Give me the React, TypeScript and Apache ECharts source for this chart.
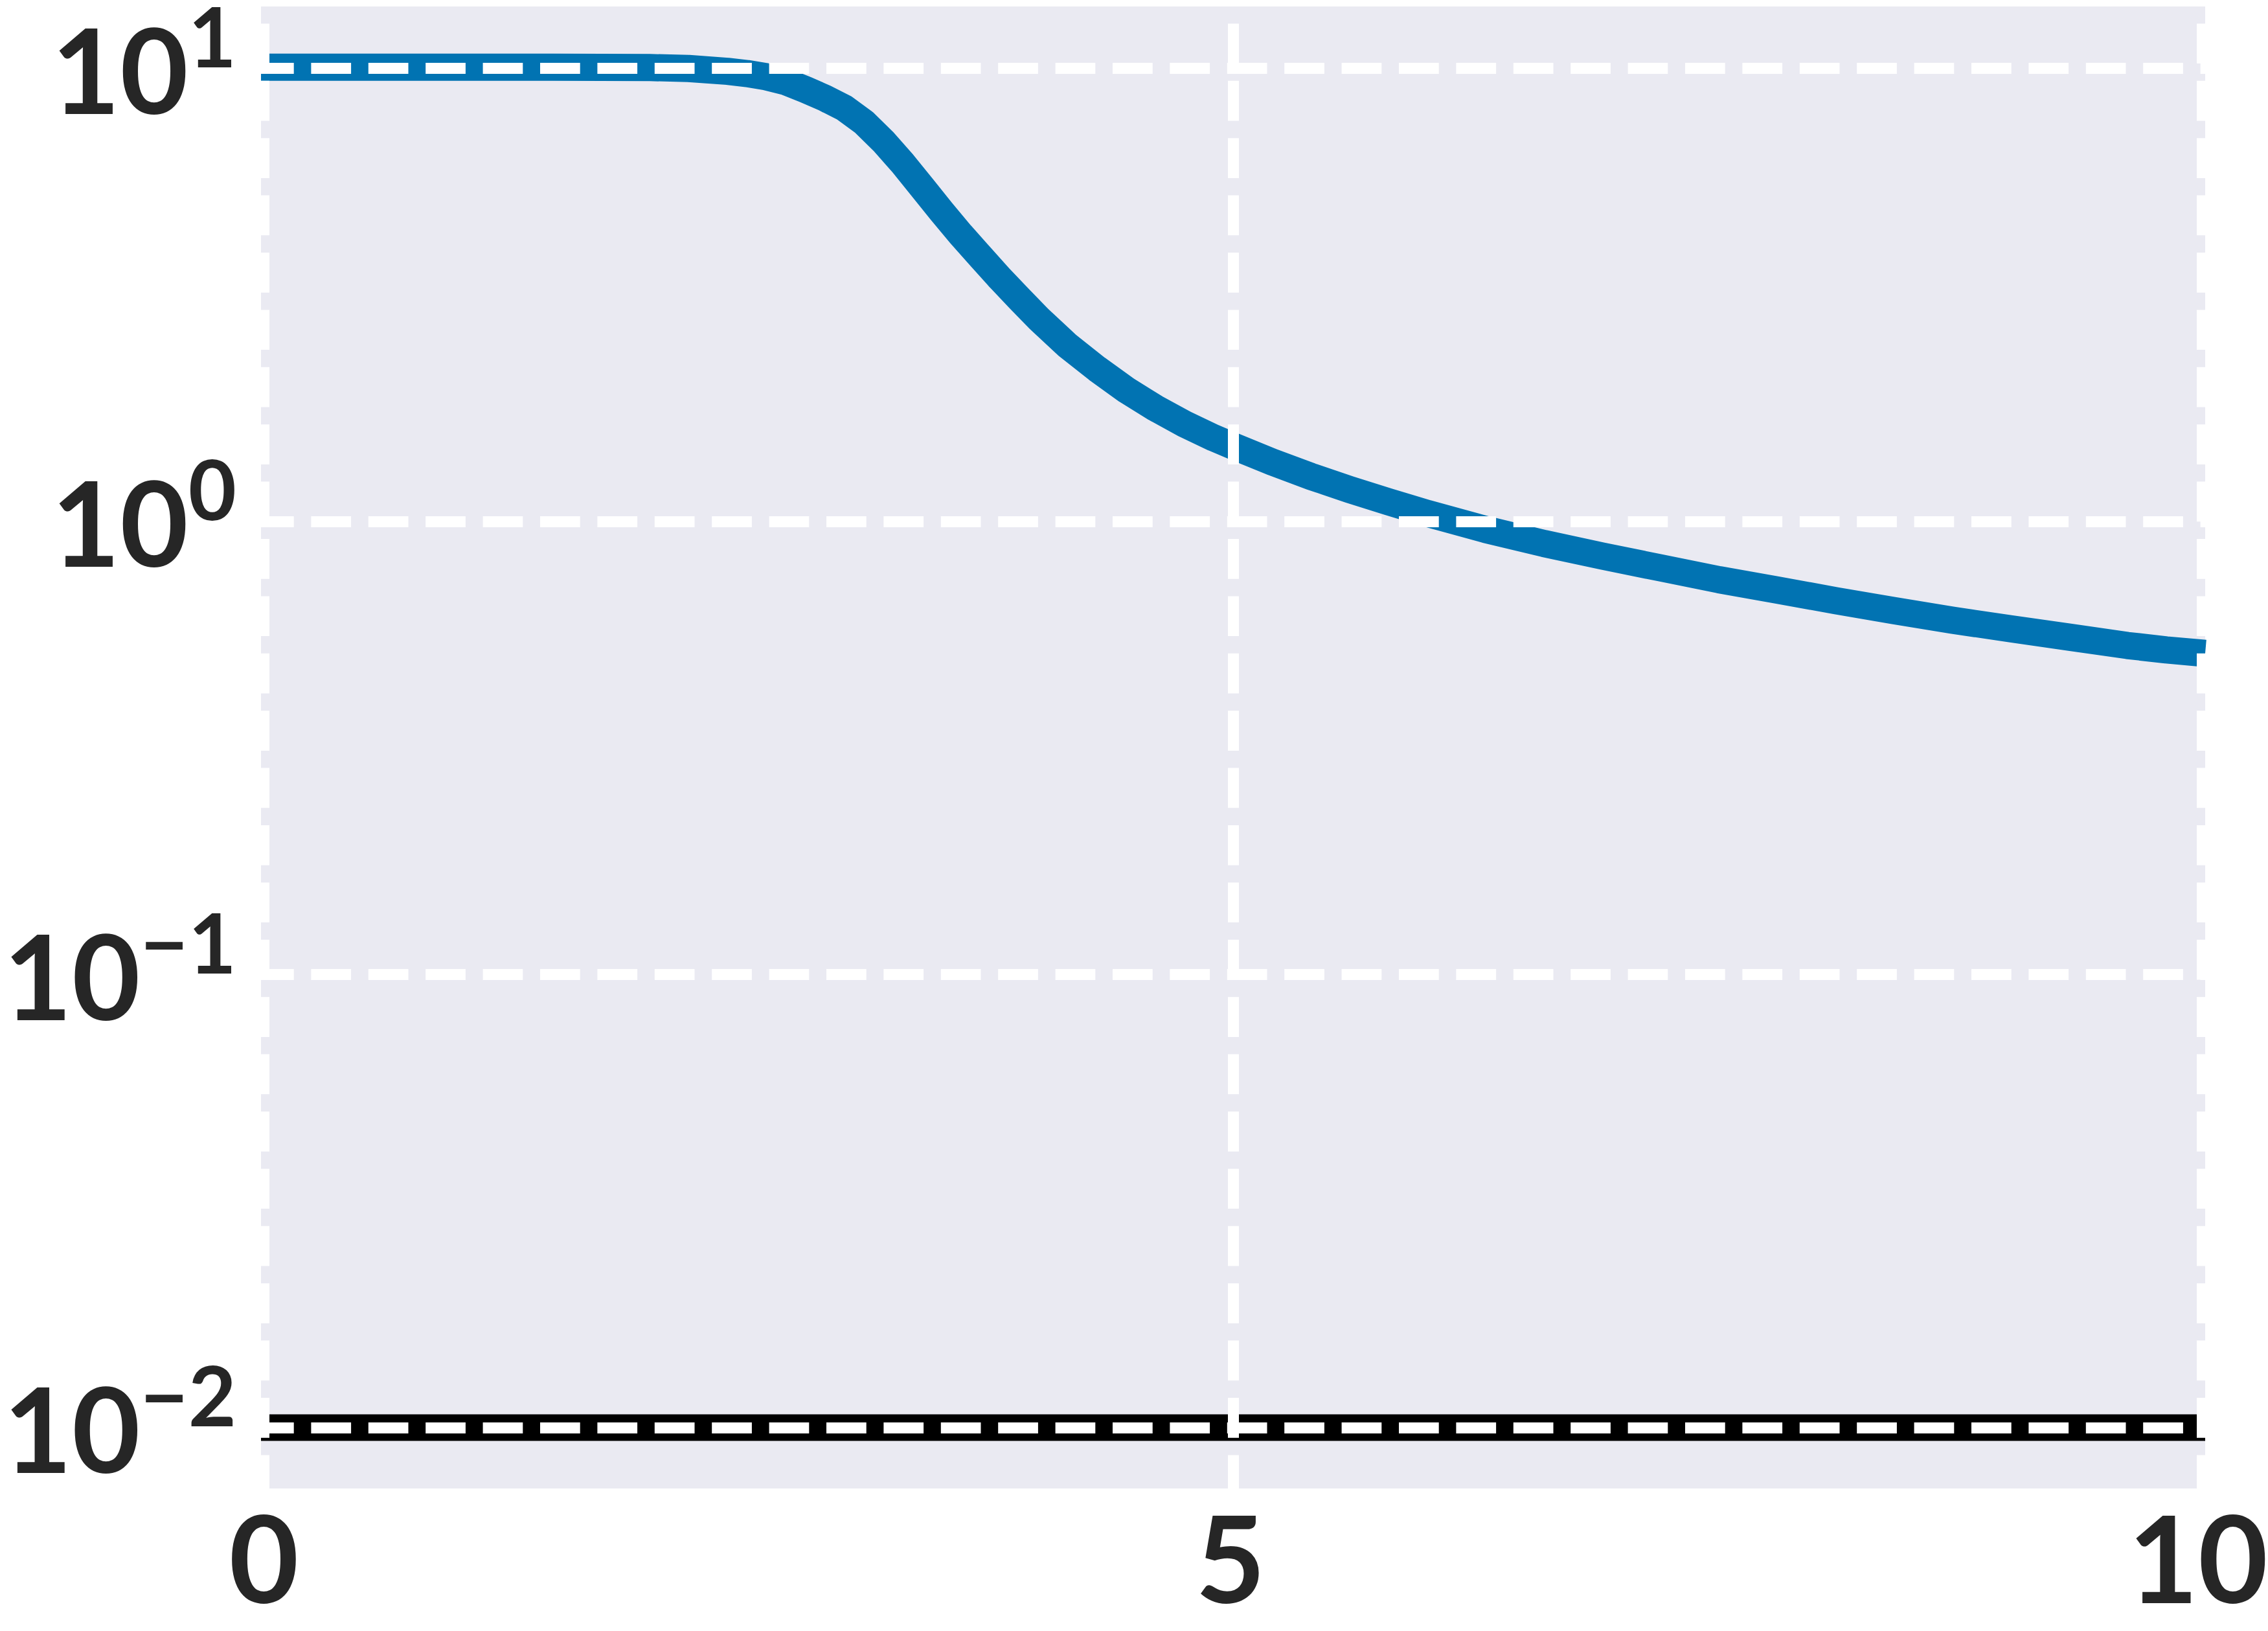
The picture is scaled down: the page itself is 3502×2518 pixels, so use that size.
import React, { useEffect, useRef } from "react";
import * as echarts from "echarts";

// ---- data ----
const xValues = [0, 0.5, 1, 1.5, 2, 2.2, 2.4, 2.5, 2.6, 2.7, 2.8, 2.9, 3.0, 3.1, 3.2, 3.3, 3.4, 3.5, 3.6, 3.7, 3.8, 3.9, 4.0, 4.15, 4.3, 4.45, 4.6, 4.75, 4.9, 5.0, 5.2, 5.4, 5.6, 5.8, 6.0, 6.3, 6.6, 6.9, 7.2, 7.5, 7.8, 8.1, 8.4, 8.7, 9.0, 9.3, 9.6, 9.8, 10];
const blueValues = [10.05, 10.05, 10.05, 10.05, 10.03, 9.98, 9.84, 9.73, 9.57, 9.33, 8.97, 8.59, 8.17, 7.6, 6.9, 6.17, 5.46, 4.83, 4.29, 3.84, 3.44, 3.1, 2.8, 2.44, 2.17, 1.95, 1.778, 1.64, 1.528, 1.466, 1.352, 1.256, 1.175, 1.104, 1.04, 0.959, 0.893, 0.838, 0.789, 0.743, 0.705, 0.668, 0.635, 0.605, 0.579, 0.555, 0.532, 0.52, 0.511];
const refX = [0, 10];
const refY = [0.01, 0.01];
const xTicks = [0, 5, 10];
const yMin = 0.007337;
const yMax = 13.68;

const TEXT = "#262626";
const BG = "#EAEAF2";
const FONT = "Lato";

export default function App() {
  const ref = useRef<HTMLDivElement>(null);
  useEffect(() => {
    if (!ref.current) return;
    const chart = echarts.init(ref.current, undefined, { renderer: "svg" });
    const top = 10;
    const bottom = 2298;
    const left = 403;
    const right = 3405;
    const dash = [61.7, 26.7];
    const xFont = { fontFamily: FONT, fontWeight: "bold", fontSize: 186, color: TEXT };
    chart.setOption({
      animation: false,
      backgroundColor: "#ffffff",
      grid: {
        left,
        top,
        width: right - left,
        height: bottom - top,
        show: true,
        backgroundColor: BG,
        borderWidth: 0,
        z: 0,
        containLabel: false,
        outerBoundsMode: "none",
      },
      xAxis: {
        type: "value",
        min: xTicks[0],
        max: xTicks[xTicks.length - 1],
        interval: xTicks[1] - xTicks[0],
        z: 3,
        axisLine: { show: false },
        axisTick: { show: false },
        axisLabel: {
          margin: 12,
          color: TEXT,
          fontFamily: FONT,
          fontWeight: "bold",
          fontSize: 186,
          showMinLabel: true,
          showMaxLabel: true,
          alignMinLabel: "center",
          alignMaxLabel: "center",
          formatter: (v: number) => {
            if (v === xTicks[0]) return "{l|" + v + "}";
            if (v === xTicks[xTicks.length - 1]) return "{r|" + v + "}";
            return "{m|" + v + "}";
          },
          rich: {
            l: { ...xFont, padding: [0, 0, 0, 9] },
            m: { ...xFont, padding: [0, 8, 0, 0] },
            r: { ...xFont, padding: [0, 22, 0, 0] },
          },
        },
        splitLine: {
          show: true,
          showMinLine: false,
          showMaxLine: false,
          lineStyle: { color: "#ffffff", width: 17, type: dash, dashOffset: 61.7 },
        },
      },
      yAxis: {
        type: "log",
        logBase: 10,
        min: yMin,
        max: yMax,
        z: 3,
        axisLine: { show: false },
        axisTick: { show: false },
        minorTick: { show: false },
        axisLabel: {
          margin: 38,
          color: TEXT,
          fontFamily: FONT,
          fontWeight: "bold",
          formatter: (v: number) => {
            const l = Math.log10(v);
            const e = Math.round(l);
            if (Math.abs(l - e) > 1e-6) return "";
            const exp = e < 0 ? "\u2212" + String(-e) : String(e);
            return "{b|10}{s|" + exp + "}";
          },
          rich: {
            b: { fontSize: 182, padding: [24, 0, 24, 0], fontFamily: FONT, fontWeight: "bold", color: TEXT },
            s: { fontSize: 128, verticalAlign: "top", fontFamily: FONT, fontWeight: "bold", color: TEXT },
          },
        },
        splitLine: {
          show: true,
          showMinLine: false,
          showMaxLine: false,
          lineStyle: { color: "#ffffff", width: 17, type: dash, dashOffset: 10.7 },
        },
      },
      graphic: [
        {
          type: "line",
          z: 20,
          shape: { x1: left + 6.5, y1: top, x2: left + 6.5, y2: bottom },
          style: { stroke: "#ffffff", lineWidth: 13, lineDash: dash, lineDashOffset: 61.7 },
          silent: true,
        },
        {
          type: "line",
          z: 20,
          shape: { x1: right - 6.5, y1: top, x2: right - 6.5, y2: bottom },
          style: { stroke: "#ffffff", lineWidth: 13, lineDash: dash, lineDashOffset: 61.7 },
          silent: true,
        },
      ],
      series: [
        {
          type: "line",
          z: 1,
          data: xValues.map((x, i) => [x, blueValues[i]]),
          symbol: "none",
          lineStyle: { color: "#0173B2", width: 42, join: "round" },
          clip: true,
        },
        {
          type: "line",
          z: 1,
          data: refX.map((x, i) => [x, refY[i]]),
          symbol: "none",
          lineStyle: { color: "#000000", width: 41 },
          clip: true,
        },
      ],
    });
    return () => chart.dispose();
  }, []);
  return (
    <div
      ref={ref}
      style={{ position: "absolute", left: 0, top: 0, width: 3502, height: 2518 }}
    />
  );
}
